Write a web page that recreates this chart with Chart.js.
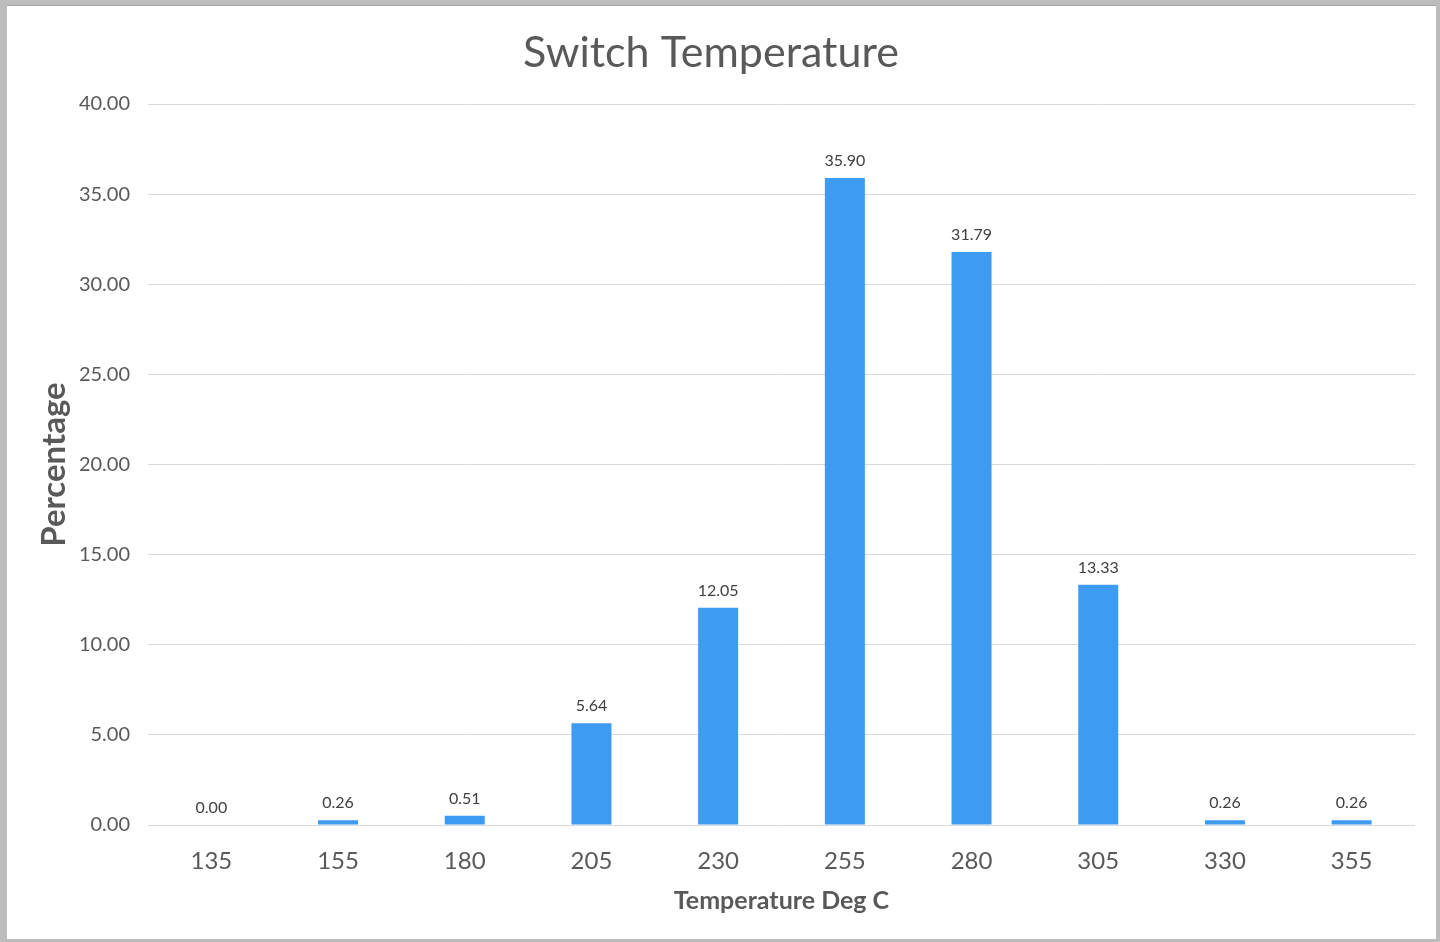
<!DOCTYPE html>
<html>
<head>
<meta charset="utf-8">
<script src="https://cdn.jsdelivr.net/npm/chart.js@4/dist/chart.umd.min.js"></script>
<style>
  html, body { margin: 0; padding: 0; }
  body { width: 1440px; height: 942px; background: #bcbcbc; position: relative; overflow: hidden; }
  #frame { position: absolute; left: 7px; top: 6px; width: 1429px; height: 933px; background: #ffffff; box-shadow: 0 -1px 0 #a6a6a6; }
  canvas { display: block; }
</style>
</head>
<body>
<div id="frame"><canvas id="c" width="1429" height="933"></canvas></div>
<script>
const chartTitle = 'Switch Temperature';
const xTitle = 'Temperature Deg C';
const yTitle = 'Percentage';
const categories = ['135', '155', '180', '205', '230', '255', '280', '305', '330', '355'];
const percentages = [0.00, 0.26, 0.51, 5.64, 12.05, 35.90, 31.79, 13.33, 0.26, 0.26];
const yMin = 0, yMax = 40, yStep = 5;

const FONT = 'Lato, "Open Sans", sans-serif';
const TEXT = '#595959';

const valueLabels = {
  id: 'valueLabels',
  afterDatasetsDraw(chart) {
    const ctx = chart.ctx;
    const meta = chart.getDatasetMeta(0);
    ctx.save();
    ctx.font = '16px ' + FONT;
    ctx.fillStyle = '#404040';
    ctx.textAlign = 'center';
    ctx.textBaseline = 'alphabetic';
    meta.data.forEach((bar, i) => {
      const v = chart.data.datasets[0].data[i];
      ctx.fillText(v.toFixed(2), bar.x, bar.y - 12);
    });
    ctx.restore();
  }
};

new Chart(document.getElementById('c'), {
  type: 'bar',
  data: {
    labels: categories,
    datasets: [{
      data: percentages,
      backgroundColor: '#3d9cf1',
      borderWidth: 0,
      inflateAmount: 0,
      barThickness: 40
    }]
  },
  options: {
    responsive: false,
    animation: false,
    devicePixelRatio: 1,
    layout: { padding: { left: 0, right: 21, top: 0, bottom: 0 } },
    plugins: {
      legend: { display: false },
      tooltip: { enabled: false },
      title: {
        display: true,
        text: chartTitle,
        color: TEXT,
        font: { family: FONT, size: 43, weight: 'normal' },
        padding: { top: 21, bottom: 25.4 }
      }
    },
    scales: {
      x: {
        grid: { display: false, drawTicks: false, tickLength: 0 },
        border: { display: false },
        ticks: { color: TEXT, font: { family: FONT, size: 24 }, padding: 22 },
        title: {
          display: true, text: xTitle, color: TEXT,
          font: { family: FONT, size: 25, weight: 'bold' },
          padding: { top: 0, bottom: 23 }
        },
        afterFit(scale) { scale.height = 114; }
      },
      y: {
        min: yMin, max: yMax,
        grid: { color: '#d9d9d9', lineWidth: 1, drawTicks: false, tickLength: 0 },
        border: { display: false },
        ticks: {
          stepSize: yStep, color: TEXT, padding: 18,
          font: { family: FONT, size: 20 },
          callback: v => Number(v).toFixed(2)
        },
        title: {
          display: true, text: yTitle, color: TEXT,
          font: { family: FONT, size: 33, weight: 'bold' },
          padding: { top: 28, bottom: 0 }
        },
        afterFit(scale) { scale.width = 141; }
      }
    }
  },
  plugins: [valueLabels]
});
</script>
</body>
</html>
